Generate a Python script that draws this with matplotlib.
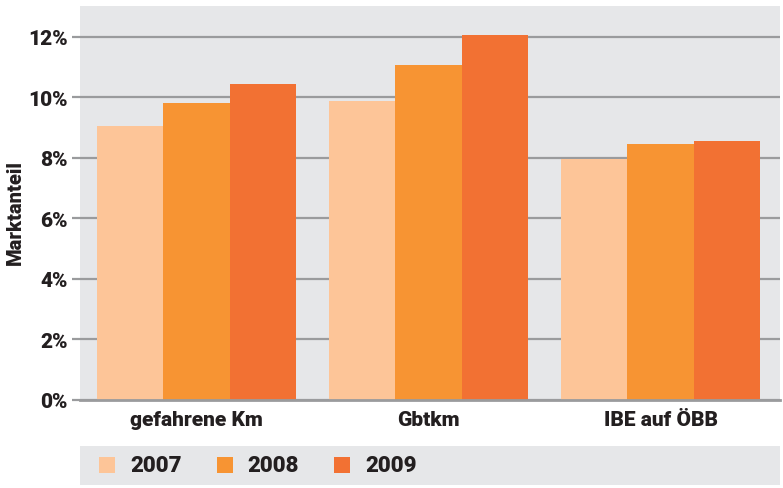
import matplotlib
matplotlib.use("Agg")
import matplotlib.pyplot as plt
import numpy as np
from matplotlib.patches import Rectangle
from matplotlib.ticker import FuncFormatter

categories = ["gefahrene Km", "Gbtkm", "IBE auf ÖBB"]
years = ["2007", "2008", "2009"]
values = {
    "2007": [9.05, 9.87, 7.96],
    "2008": [9.80, 11.08, 8.45],
    "2009": [10.43, 12.07, 8.55],
}
yticks = [0, 2, 4, 6, 8, 10, 12]
colors = ["#FDC598", "#F79433", "#F27133"]
ylabel = "Marktanteil"

plt.rcParams['font.family'] = ['Roboto', 'DejaVu Sans']
plt.rcParams['font.weight'] = 'heavy'
txtcol = "#231F20"

W, H = 783, 489
fig = plt.figure(figsize=(W/100, H/100), dpi=100)
ax = fig.add_axes([80/W, 1-401/H, 700/W, 394/H])
ax.set_facecolor("#E6E7E9")
for s in ax.spines.values():
    s.set_visible(False)

x = np.arange(len(categories))
w = 0.285
for i, (yr, c) in enumerate(zip(years, colors)):
    ax.bar(x + (i-1)*w, values[yr], width=w, color=c, zorder=3, linewidth=0)

ax.set_xlim(-0.502, 2.515)
ax.set_ylim(0, 13.02)
ax.set_yticks(yticks)
ax.yaxis.set_major_formatter(FuncFormatter(lambda v, p: f"{int(v)}%"))
ax.yaxis.grid(True, color="#9A9B9D", linewidth=1.6, zorder=1)
ax.set_axisbelow(True)
ax.tick_params(axis='y', length=6, width=1.6, color="#9A9B9D", pad=3,
               labelsize=15, labelcolor=txtcol)
ax.set_xticks(x)
ax.set_xticklabels(categories)
ax.tick_params(axis='x', length=0, pad=7, labelsize=15, labelcolor=txtcol)

fig.text(15/W, 1-213/H, ylabel, fontsize=14.5, fontweight='heavy', color=txtcol,
         rotation=90, ha='center', va='center')

ax.axhline(0, color="#9A9B9D", linewidth=2, zorder=4, clip_on=False)

# legend band
fig.patches.append(Rectangle((80/W, 1-486/H), 700/W, 39/H,
                             transform=fig.transFigure, facecolor="#E6E7E9",
                             edgecolor='none', zorder=0))
for i, (yr, c) in enumerate(zip(years, colors)):
    x0 = 99 + i*117.5
    fig.patches.append(Rectangle((x0/W, 1-474/H), 16/W, 16/H,
                                 transform=fig.transFigure, facecolor=c,
                                 edgecolor='none', zorder=1))
    fig.text((x0+31)/W, 1-466/H, yr, fontsize=16, fontweight='heavy',
             color=txtcol, ha='left', va='center')

fig.savefig("out.png", dpi=100)
